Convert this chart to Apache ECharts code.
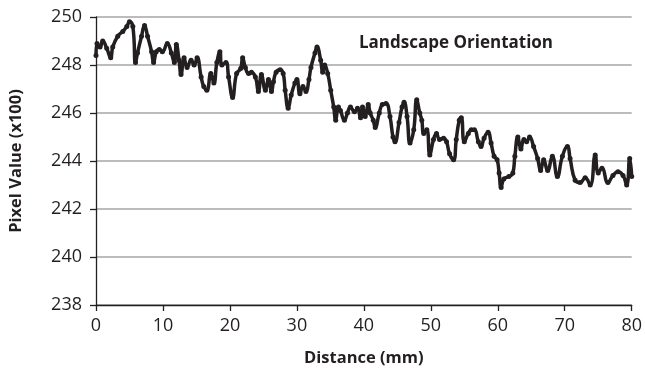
<!DOCTYPE html>
<html><head><meta charset="utf-8">
<script src="https://cdn.jsdelivr.net/npm/echarts@6/dist/echarts.min.js"></script>
<style>html,body{margin:0;padding:0;background:#fff}#c{width:645px;height:372px}</style>
</head><body><div id="c"></div>
<script>
const distance = [0,0.15,0.6,1.0,1.6,2.2,2.5,3.25,4.0,4.6,5.0,5.5,5.9,6.2,6.8,7.25,7.7,8.3,8.6,9.0,9.45,9.9,10.65,11.25,11.7,12.0,12.4,12.7,13.15,13.6,14.2,14.65,15.1,15.7,16.1,16.55,17.15,17.6,18.05,18.5,18.8,19.4,19.8,20.4,21.0,21.6,21.9,22.3,22.8,23.2,23.8,24.25,24.7,25.3,25.75,26.2,26.5,26.9,27.5,27.95,28.25,28.7,29.15,29.7,30.0,30.45,30.9,31.35,31.8,32.1,32.7,33.0,33.55,33.85,34.15,34.6,35.05,35.5,35.8,36.2,36.5,37.1,37.55,38.0,38.6,39.05,39.5,39.8,40.2,40.65,40.95,41.4,41.7,42.3,42.75,43.3,43.9,44.35,44.65,45.25,45.7,46.0,46.45,46.9,47.45,47.9,48.35,48.65,48.95,49.4,49.85,50.4,50.85,51.3,51.9,52.35,52.8,53.4,53.8,54.25,54.55,55.0,55.6,56.05,56.5,57.1,57.5,57.95,58.55,59.0,59.45,59.9,60.2,60.5,60.9,61.65,62.25,62.55,63.0,63.45,63.9,64.3,64.75,65.35,65.95,66.4,66.85,67.45,68.15,68.9,69.65,70.4,70.8,71.55,72.3,73.05,73.8,74.55,75.0,75.55,76.45,77.2,77.95,78.7,79.25,79.7,80.0];
const pixelValue = [248.4,248.9,248.75,249.0,248.7,248.3,248.75,249.2,249.4,249.6,249.8,249.6,248.1,248.5,249.2,249.65,249.2,248.55,248.1,248.55,248.65,248.55,248.9,248.5,248.1,248.85,248.2,247.6,248.3,247.9,248.2,248.0,248.3,247.5,247.1,246.95,247.65,247.25,248.1,248.55,248.0,248.1,247.5,246.65,247.65,247.85,248.3,247.9,247.65,247.7,247.5,246.9,247.6,246.95,247.4,246.9,247.3,247.7,247.8,247.65,246.95,246.2,246.75,247.25,247.4,246.8,247.1,246.9,247.4,247.9,248.5,248.75,248.2,247.7,248.0,247.65,246.95,246.25,245.7,246.25,246.1,245.7,246.0,246.25,246.05,246.2,245.8,246.25,245.85,246.35,246.0,245.7,245.4,246.0,246.35,246.4,245.85,245.0,244.8,245.6,246.25,246.45,245.85,244.75,245.3,246.55,246.0,245.7,245.15,245.3,244.25,244.9,245.15,244.9,244.95,244.8,244.3,244.05,244.9,245.7,245.8,244.8,245.15,245.3,245.3,244.8,244.6,244.95,245.2,244.75,244.2,244.05,243.5,242.9,243.25,243.35,243.5,244.2,245.0,244.5,244.9,244.8,245.0,244.6,244.1,243.6,244.05,243.6,244.2,243.35,244.2,244.6,244.1,243.2,243.1,243.3,243.0,244.25,243.5,243.7,243.1,243.4,243.55,243.4,243.0,244.1,243.35];
const xTicks = {min: 0, max: 80, interval: 10};
const yTicks = {min: 238, max: 250, interval: 2};
const chartTitle = 'Landscape Orientation';
const xName = 'Distance (mm)';
const yName = 'Pixel Value (x100)';

const chart = echarts.init(document.getElementById('c'), null, {renderer: 'canvas'});
const font = '"Open Sans", sans-serif';
chart.setOption({
  animation: false,
  backgroundColor: '#ffffff',
  title: {
    text: chartTitle, left: 354, top: 30,
    textStyle: {fontFamily: font, fontWeight: 'bold', fontSize: 17, color: '#231f20'}
  },
  grid: {left: 96, right: 8, top: 17, bottom: 67, containLabel: false},
  xAxis: {
    type: 'value', min: xTicks.min, max: xTicks.max, interval: xTicks.interval,
    name: xName, nameLocation: 'middle', nameGap: 45,
    nameTextStyle: {fontFamily: font, fontWeight: 'bold', fontSize: 16.5, color: '#231f20'},
    axisLine: {show: true, lineStyle: {color: '#231f20', width: 1.3}},
    axisTick: {show: true, inside: false, length: 6, lineStyle: {color: '#231f20', width: 1.3}},
    axisLabel: {fontFamily: font, fontSize: 18, color: '#231f20', margin: 12},
    splitLine: {show: false}
  },
  yAxis: {
    type: 'value', min: yTicks.min, max: yTicks.max, interval: yTicks.interval,
    name: yName, nameLocation: 'middle', nameGap: 71, nameRotate: 90,
    nameTextStyle: {fontFamily: font, fontWeight: 'bold', fontSize: 16.5, color: '#231f20'},
    axisLine: {show: true, lineStyle: {color: '#231f20', width: 1.3}},
    axisTick: {show: true, inside: false, length: 6, lineStyle: {color: '#231f20', width: 1.3}},
    axisLabel: {fontFamily: font, fontSize: 18, color: '#231f20', margin: 14},
    splitLine: {show: true, lineStyle: {color: '#a6a6a6', width: 1.5}}
  },
  series: [{
    type: 'line',
    data: distance.map((d, i) => [d, pixelValue[i]]),
    smooth: 0.5,
    symbol: 'circle', symbolSize: 5, showSymbol: true,
    itemStyle: {color: '#231f20'},
    lineStyle: {color: '#231f20', width: 3.5},
    clip: true
  }]
});
</script></body></html>
